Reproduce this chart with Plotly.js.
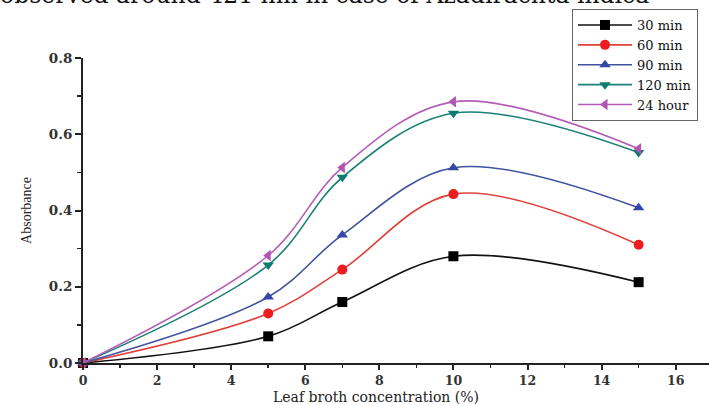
<!DOCTYPE html>
<html>
<head>
<meta charset="utf-8">
<script src="https://cdn.plot.ly/plotly-3.0.1.min.js"></script>
<style>html,body{margin:0;padding:0;background:#fff;}#chart{width:709px;height:405px;}</style>
</head>
<body>
<div id="chart"></div>
<script>
const concentration = [0, 5, 7, 10, 15];
const seriesNames = ["30 min", "60 min", "90 min", "120 min", "24 hour"];
const abs30min  = [0, 0.070, 0.160, 0.280, 0.212];
const abs60min  = [0, 0.130, 0.245, 0.443, 0.310];
const abs90min  = [0, 0.173, 0.336, 0.512, 0.407];
const abs120min = [0, 0.257, 0.487, 0.655, 0.552];
const abs24hour = [0, 0.282, 0.513, 0.685, 0.562];
const xTicks = [0, 2, 4, 6, 8, 10, 12, 14, 16];
const yTicks = [0.0, 0.2, 0.4, 0.6, 0.8];
const yTickText = ["0.0", "0.2", "0.4", "0.6", "0.8"];
const headerText = "observed around 421 nm in case of Azadirachta indica";
const xTitle = "Leaf broth concentration (%)";
const yTitle = "Absorbance";

const values = [abs30min, abs60min, abs90min, abs120min, abs24hour];
const lineColors = ["#111111", "#e0403a", "#4152a0", "#1b8078", "#b35eb5"];
const markerColors = ["#000000", "#ee1c1f", "#3447a6", "#0f7a72", "#b055b3"];
const symbols = ["square", "circle", "triangle-up", "triangle-down", "triangle-left"];

const traces = values.map((v, i) => ({
  type: "scatter",
  mode: "lines+markers",
  x: concentration,
  y: v,
  name: seriesNames[i],
  line: {color: lineColors[i], width: 1.6, shape: "spline", smoothing: 1},
  marker: {color: markerColors[i], symbol: symbols[i], size: 10},
  cliponaxis: false
}));

const serif = "Liberation Serif, Times New Roman, serif";
const wideSerif = "DejaVu Serif, serif";
const layout = {
  width: 709, height: 405,
  margin: {l: 83, r: 0, t: 58, b: 42},
  paper_bgcolor: "#fff", plot_bgcolor: "#fff",
  showlegend: true,
  legend: {
    x: 489 / 626, y: 354 / 305, xanchor: "left", yanchor: "top",
    bgcolor: "#fff", bordercolor: "#666", borderwidth: 1,
    font: {family: wideSerif, size: 13, color: "#111"},
    tracegroupgap: 0, itemwidth: 54
  },
  xaxis: {
    range: [0, 16.9], tickvals: xTicks, ticktext: xTicks.map(String),
    showgrid: false, zeroline: false, showline: true, linecolor: "#222", linewidth: 2,
    ticks: "outside", ticklen: 5, tickwidth: 2, tickcolor: "#222",
    minor: {dtick: 1, tick0: 0, ticks: "outside", ticklen: 3, tickwidth: 1.5, tickcolor: "#222"},
    tickfont: {family: wideSerif, size: 12.5, color: "#333", weight: "bold"}
  },
  yaxis: {
    range: [0, 0.8], tickvals: yTicks, ticktext: yTickText,
    showgrid: false, zeroline: false, showline: true, linecolor: "#222", linewidth: 2,
    ticks: "outside", ticklen: 6, tickwidth: 2, tickcolor: "#222",
    minor: {dtick: 0.1, tick0: 0, ticks: "outside", ticklen: 4, tickwidth: 1.5, tickcolor: "#222"},
    tickfont: {family: wideSerif, size: 13.5, color: "#333", weight: "bold"},
    title: {text: yTitle, font: {family: serif, size: 14, color: "#222"}, standoff: 14}
  },
  annotations: [{
    text: headerText, xref: "paper", yref: "paper",
    x: -85 / 626, y: 1, xanchor: "left", yanchor: "bottom", yshift: 47,
    showarrow: false, font: {family: wideSerif, size: 23.5, color: "#111"}
  }, {
    text: xTitle, xref: "paper", yref: "paper",
    x: 188 / 626, y: 0, xanchor: "left", yanchor: "top", yshift: -24,
    showarrow: false, font: {family: wideSerif, size: 14, color: "#222"}
  }]
};

Plotly.newPlot("chart", traces, layout, {displayModeBar: false, staticPlot: true});
</script>
</body>
</html>
